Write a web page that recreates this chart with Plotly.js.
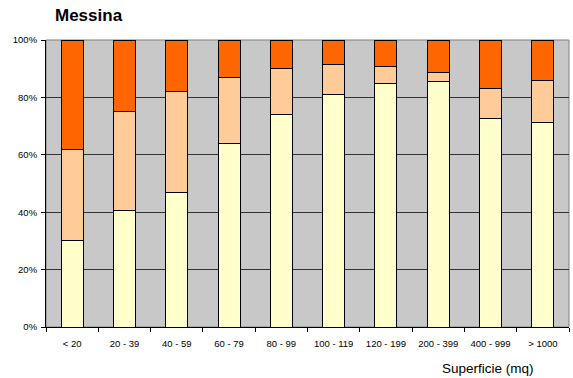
<!DOCTYPE html>
<html><head><meta charset="utf-8">
<script src="https://cdn.plot.ly/plotly-3.0.1.min.js"></script>
<style>html,body{margin:0;padding:0;background:#fff}</style>
</head><body>
<div id="chart" style="width:573px;height:378px"></div>
<script>
const categories = ["< 20","20 - 39","40 - 59","60 - 79","80 - 99","100 - 119","120 - 199","200 - 399","400 - 999","> 1000"];
const lowShare  = [30, 40.5, 47, 64, 74, 81.1, 84.7, 85.5, 72.7, 71.2];
const midShare  = [32, 34.5, 35, 23, 16, 10.2, 6.2, 3.1, 10.5, 14.6];
const highShare = [38, 25, 18, 13, 10, 8.7, 9.1, 11.4, 16.8, 14.2];
const tickVals = [0,20,40,60,80,100];
const tickText = ["0%","20%","40%","60%","80%","100%"];

function tr(y, color){
  return {type:"bar", x:categories, y:y, marker:{color:color, line:{color:"#000", width:1}}, hoverinfo:"skip"};
}
const data = [tr(lowShare,"#FFFFCC"), tr(midShare,"#FFCC99"), tr(highShare,"#FF6600")];
const layout = {
  width:573, height:378, barmode:"stack", bargap:0.58, showlegend:false,
  paper_bgcolor:"#fff", plot_bgcolor:"#C8C8C8",
  margin:{l:46, r:4, t:40, b:51},
  font:{family:"Liberation Sans, Arial, sans-serif", color:"#000"},
  xaxis:{type:"category", tickson:"boundaries", ticks:"outside", ticklen:4, tickcolor:"#000",
    showline:true, linecolor:"#000", linewidth:1, showgrid:false, tickfont:{size:9.5}, zeroline:false,
    ticklabelstandoff:8},
  yaxis:{range:[0,100], tickvals:tickVals, ticktext:tickText, ticks:"outside", ticklen:4, tickcolor:"#000",
    showline:true, linecolor:"#000", gridcolor:"#333", gridwidth:1, tickfont:{size:9.5}, zeroline:false,
    ticklabelstandoff:2},
  shapes:[{type:"rect", xref:"paper", yref:"paper", x0:0, x1:1, y0:0, y1:1, line:{color:"#808080", width:1}, fillcolor:"rgba(0,0,0,0)", layer:"below"}],
  annotations:[
    {text:"<b>Messina</b>", xref:"paper", yref:"paper", x:0.013, y:1.084, xanchor:"left", yanchor:"middle", showarrow:false, font:{size:17}},
    {text:"Superficie (mq)", xref:"paper", yref:"paper", x:0.845, y:-0.145, xanchor:"center", yanchor:"middle", showarrow:false, font:{size:13.5}}
  ]
};
Plotly.newPlot("chart", data, layout, {displayModeBar:false, staticPlot:true});
</script>
</body></html>
